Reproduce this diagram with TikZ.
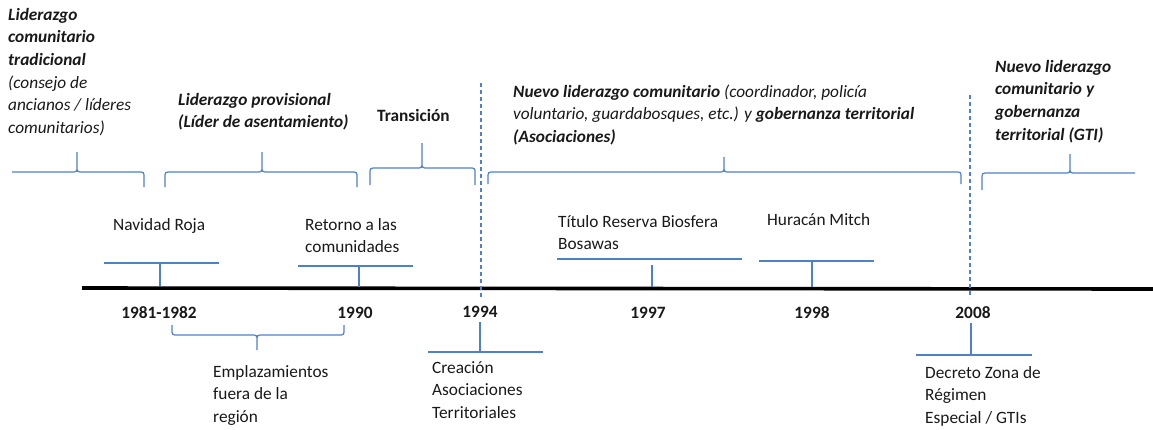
\documentclass[tikz,border=0pt]{standalone}
\usepackage{fontspec}
\setmainfont{Carlito}
\definecolor{lineblue}{RGB}{79,129,199}
\definecolor{txt}{RGB}{25,25,25}
\tikzset{
  lbl/.style={anchor=north west, inner sep=0pt, align=left, text=txt, font=\fontsize{17.3}{22.7}\selectfont},
  one/.style={anchor=base west, inner sep=0pt, text=txt, font=\fontsize{17.3}{22.7}\selectfont},
  yr/.style={anchor=base, inner sep=0pt, text=txt, font=\fontsize{17.3}{22.7}\selectfont\bfseries},
  bl/.style={draw=lineblue, line width=1.2pt},
  dsh/.style={draw=lineblue, line width=1.2pt, dash pattern=on 4pt off 3pt},
  axisline/.style={draw=black, line width=3.6pt},
}
% brace with hooks downward and tip upward
\newcommand{\bracedn}[6]{%
  \draw[bl] (#1,#4) -- (#1,#3+6) .. controls (#1,#3) .. (#1+6,#3) -- (#5-6,#3)
     .. controls (#5,#3) .. (#5,#3-6) -- (#5,#6)
     (#5,#3-6) .. controls (#5,#3) .. (#5+6,#3) -- (#2-6,#3)
     .. controls (#2,#3) .. (#2,#3+6) -- (#2,#4);}
\begin{document}
\begin{tikzpicture}[x=1pt,y=-1pt]
\useasboundingbox (0,0) rectangle (1153,429);

% main axis
\coordinate (axL) at (82,288);
\coordinate (axR) at (1153,289);
\draw[axisline] (axL) -- (axR);

% dashed separators
\coordinate (d1t) at (481,83);  \coordinate (d1b) at (481,298);
\coordinate (d2t) at (970,95);  \coordinate (d2b) at (970,298);
\draw[dsh] (d1t) -- (d1b);
\draw[dsh] (d2t) -- (d2b);

% ---- period texts (top) ----
\node[lbl] (p1) at (8,4.1) {\strut\textbf{\textit{Liderazgo}}\\\textbf{\textit{comunitario}}\\\textbf{\textit{tradicional}}\\\textit{(consejo de}\\\textit{ancianos / líderes}\\\textit{comunitarios)}};
\node[lbl] (p2) at (178,89.1) {\strut\textbf{\textit{Liderazgo provisional}}\\\textbf{\textit{(Líder de asentamiento)}}};
\node[one, font=\fontsize{17.3}{22.7}\selectfont\bfseries] (p3) at (377,121) {Transición};
\node[lbl] (p4) at (513,81.1) {\strut\textit{\textbf{Nuevo liderazgo comunitario} (coordinador, policía}\\\textit{voluntario, guardabosques, etc.) y \textbf{gobernanza territorial}}\\\textbf{\textit{(Asociaciones)}}};
\node[lbl] (p5) at (995,56.1) {\strut\textbf{\textit{Nuevo liderazgo}}\\\textbf{\textit{comunitario y}}\\\textbf{\textit{gobernanza}}\\\textbf{\textit{territorial (GTI)}}};

% ---- braces (top) ----
% brace 1 (left end plain)
\draw[bl] (12,172) -- (71,172) .. controls (77,172) .. (77,166) -- (77,152)
   (77,166) .. controls (77,172) .. (83,172) -- (138,172) .. controls (144,172) .. (144,178) -- (144,187);
\bracedn{165}{357}{172}{187}{262}{152}
\bracedn{370}{475}{168}{185}{422}{143}
\bracedn{488}{961}{172}{184}{724}{157}
% brace 5 (right end plain)
\draw[bl] (982,190) -- (982,179) .. controls (982,173) .. (988,173) -- (1064,173)
   .. controls (1070,173) .. (1070,167) -- (1070,154)
   (1070,167) .. controls (1070,173) .. (1076,173) -- (1135,173);

% ---- years ----
\node[yr] (y81) at (159,318) {1981-1982};
\node[yr] (y90) at (355,318) {1990};
\node[yr] (y94) at (480,317) {1994};
\node[yr] (y97) at (648,318) {1997};
\node[yr] (y98) at (812,318) {1998};
\node[yr] (y08) at (973,318) {2008};

% ---- events above the axis ----
\node[one] (e1) at (113,230) {Navidad Roja};
\draw[bl] (104,263) -- (219,263);
\draw[bl] (160,263) -- (160,286);

\node[lbl] (e2) at (305,214.1) {\strut Retorno a las\\comunidades};
\draw[bl] (298,266) -- (413,266);
\draw[bl] (359,266) -- (359,287);

\node[lbl] (e3) at (558,211.1) {\strut Título Reserva Biosfera\\Bosawas};
\draw[bl] (557,259) -- (742,259);
\draw[bl] (652,265) -- (652,287);

\node[one] (e4) at (767,225) {Huracán Mitch};
\draw[bl] (759,261) -- (874,261);
\draw[bl] (812,261) -- (812,287);

% ---- events below the axis ----
\draw[bl] (172,325) -- (172,329) .. controls (172,335) .. (178,335) -- (251,335)
   .. controls (257,335) .. (257,341) -- (257,350)
   (257,341) .. controls (257,335) .. (263,335) -- (338,335)
   .. controls (344,335) .. (344,329) -- (344,325);
\node[lbl] (e5) at (213,361.1) {\strut Emplazamientos\\fuera de la\\región};

\draw[bl] (480,322) -- (480,352);
\draw[bl] (428,352) -- (543,352);
\node[lbl] (e6) at (432,357.1) {\strut Creación\\Asociaciones\\Territoriales};

\draw[bl] (971,323) -- (971,355);
\draw[bl] (916,355) -- (1032,355);
\node[lbl] (e7) at (925,362.1) {\strut Decreto Zona de\\Régimen\\Especial / GTIs};
\end{tikzpicture}
\end{document}
